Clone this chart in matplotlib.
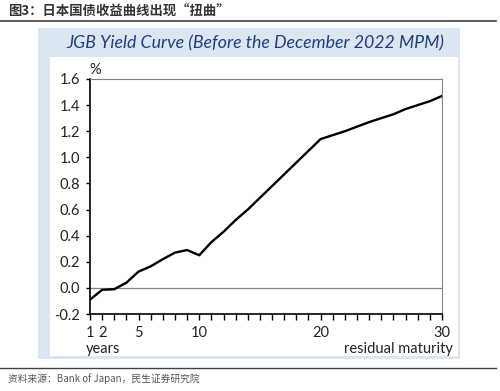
import numpy as np
import matplotlib.pyplot as plt
from matplotlib.patches import Rectangle
from matplotlib.lines import Line2D

# residual maturity (years) and yield (%)
years = np.arange(1, 31)
yields = [-0.09, -0.015, -0.01, 0.04, 0.125, 0.165, 0.22, 0.27, 0.29, 0.25,
          0.35, 0.43, 0.52, 0.60, 0.69, 0.78, 0.87, 0.96, 1.05, 1.14,
          1.17, 1.20, 1.235, 1.27, 1.30, 1.33, 1.37, 1.40, 1.43, 1.47]
xlabels = {1: "1", 2: "2", 5: "5", 10: "10", 20: "20", 30: "30"}
yticks = np.arange(-0.2, 1.61, 0.2)

plt.rcParams['font.family'] = ['Lato', 'DejaVu Sans']

fig = plt.figure(figsize=(5, 3.91), dpi=100)
W, H = 500, 391

def fx(px):
    return px / W

def fy(py):
    return 1 - py / H

# header and footer
fig.text(fx(8), fy(12), "图3：日本国债收益曲线出现“扭曲”", family=['Noto Sans CJK SC', 'DejaVu Sans'],
         fontsize=9.6, fontweight='bold', color='#333333', va='center')
fig.add_artist(Line2D([fx(0), fx(496)], [fy(21), fy(21)], color='#404040', lw=1.2))
fig.add_artist(Line2D([fx(0), fx(496)], [fy(368), fy(368)], color='#404040', lw=1.0))
fig.text(fx(8), fy(379), "资料来源：Bank of Japan，民生证券研究院", family=['Noto Sans CJK SC', 'DejaVu Sans'],
         fontsize=7, color='#555555', va='center')

# panel
fig.add_artist(Rectangle((fx(38), fy(359)), fx(460 - 38), (359 - 28) / H, facecolor='#dce6f2',
                         edgecolor='none', zorder=0))
fig.add_artist(Rectangle((fx(50), fy(356)), fx(458 - 50), (356 - 57) / H, facecolor='white',
                         edgecolor='none', zorder=0))
fig.text(fx(255), fy(43), "JGB Yield Curve (Before the December 2022 MPM)", fontsize=12.8,
         style='italic', color='#1f3d7a', ha='center', va='center')

ax = fig.add_axes([fx(90), fy(314), fx(442 - 90), (314 - 79) / H])
ax.plot(years, yields, color='black', lw=1.7, zorder=3)
ax.axhline(0, color='#808080', lw=0.9, zorder=2)
ax.set_xlim(1, 30)
ax.set_ylim(-0.2, 1.6)
ax.set_xticks(years)
ax.set_xticklabels([xlabels.get(int(y), "") for y in years])
ax.set_yticks(yticks)
ax.set_yticklabels([f"{v:.1f}" for v in yticks])
ax.tick_params(axis='x', direction='out', length=4, width=1, pad=4.5, labelsize=10.5, colors='black')
ax.tick_params(axis='y', direction='out', length=3, width=1, pad=4, labelsize=10.5, colors='black')
for lab in ax.get_xticklabels() + ax.get_yticklabels():
    lab.set_color('#222222')
ax.spines['left'].set_color('black')
ax.spines['bottom'].set_color('black')
ax.spines['left'].set_linewidth(1.2)
ax.spines['bottom'].set_linewidth(1.2)
ax.spines['top'].set_color('#808080')
ax.spines['right'].set_color('#808080')

fig.text(fx(89), fy(70), "%", fontsize=10.5, color='#222222', va='center')
fig.text(fx(86), fy(348.5), "years", fontsize=10.5, color='#222222', va='center')
fig.text(fx(453), fy(348.5), "residual maturity", fontsize=10.5, color='#222222', va='center', ha='right')

fig.savefig("out.png", dpi=100)
